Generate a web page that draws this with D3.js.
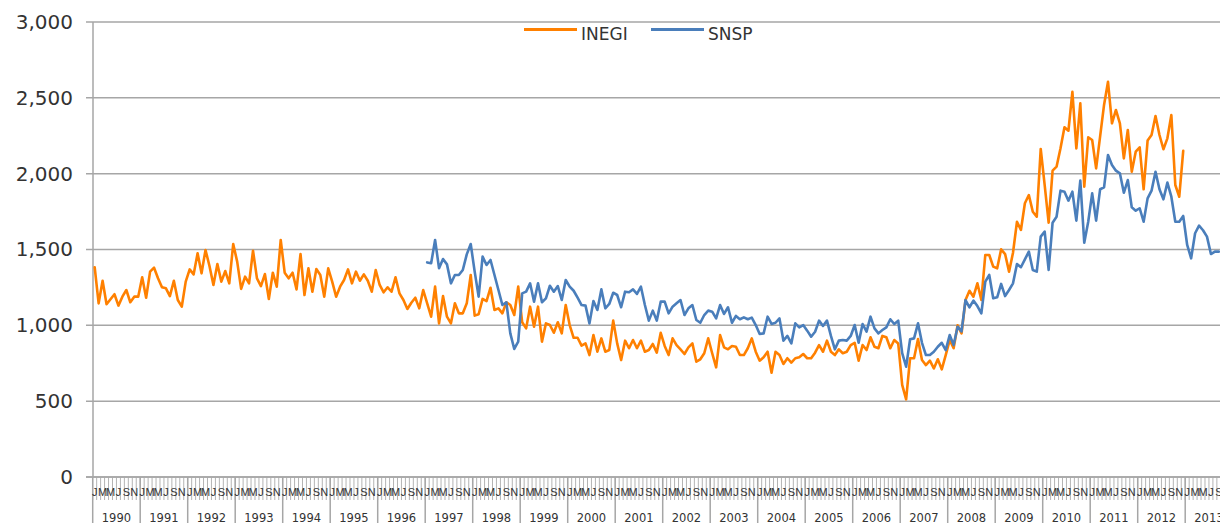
<!DOCTYPE html>
<html><head><meta charset="utf-8">
<script src="https://cdn.jsdelivr.net/npm/d3@7"></script>
<style>body{margin:0;background:#fff;overflow:hidden} svg{display:block}</style>
</head><body><svg id="c" width="1240" height="523"></svg>
<script>
// Monthly values, first month = Jan 1990 (index 0)
const inegiStart = 0;
const inegi = [
1383,1145,1294,1139,1172,1205,1130,1189,1233,1152,1189,1189,
1317,1182,1354,1380,1310,1251,1244,1193,1294,1167,1123,1288,
1369,1336,1475,1343,1497,1391,1266,1404,1288,1358,1277,1536,
1420,1240,1321,1277,1492,1310,1259,1338,1174,1347,1255,1563,
1347,1310,1347,1237,1470,1200,1376,1222,1371,1332,1189,1376,
1288,1189,1255,1299,1369,1277,1354,1294,1336,1294,1222,1365,
1266,1218,1251,1222,1317,1211,1167,1108,1149,1182,1112,1233,
1145,1057,1255,1013,1193,1057,1013,1145,1079,1079,1145,1332,
1064,1073,1174,1160,1248,1101,1112,1079,1152,1134,1068,1255,
1020,980,1123,991,1123,892,1013,1002,951,1020,947,1134,
1002,918,918,866,881,804,936,826,914,826,837,1031,
881,771,899,849,903,849,899,826,837,877,820,951,
864,804,914,870,842,811,855,881,760,776,816,914,
816,723,936,855,842,864,859,804,804,849,914,826,
767,789,826,688,826,804,745,783,754,783,789,811,
783,783,820,870,826,899,826,804,842,816,826,870,
885,767,870,837,921,859,849,930,921,849,903,881,
607,512,783,783,910,771,738,767,716,776,710,804,
903,849,1000,947,1167,1228,1189,1277,1167,1464,1464,1387,
1376,1501,1470,1354,1479,1683,1629,1805,1859,1749,1716,2163,
1925,1677,2020,2046,2167,2306,2283,2540,2167,2464,1914,2240,
2222,2035,2244,2453,2606,2332,2420,2332,2101,2288,2013,2145,
2174,1897,2218,2255,2380,2255,2161,2233,2387,1925,1848,2151
];
// SNSP starts Jan 1997 (index 84)
const snspStart = 84;
const snsp = [
1415,1409,1563,1376,1437,1402,1277,1332,1332,1365,1468,1536,
1354,1189,1453,1398,1431,1332,1233,1134,1152,947,844,892,
1211,1222,1277,1156,1277,1152,1178,1261,1222,1259,1167,1299,
1255,1228,1182,1134,1130,1013,1160,1101,1237,1112,1141,1215,
1200,1119,1222,1218,1237,1207,1255,1134,1031,1097,1031,1156,
1156,1079,1123,1145,1167,1068,1112,1134,1035,1017,1068,1097,
1090,1046,1134,1075,1119,1017,1062,1040,1053,1040,1051,1002,
943,947,1057,1009,1017,1046,899,930,881,1013,987,1002,
965,925,958,1031,996,1031,930,842,899,903,899,930,
1002,885,1009,958,1057,980,947,969,987,1040,1009,1031,
816,727,908,914,1013,885,804,804,826,859,885,837,
936,870,991,960,1167,1119,1163,1127,1079,1288,1332,1178,
1185,1273,1193,1233,1277,1404,1383,1435,1486,1365,1354,1585,
1618,1365,1677,1716,1888,1881,1822,1881,1690,1954,1545,1683,
1870,1690,1897,1910,2123,2057,2020,2002,1874,1958,1778,1756,
1772,1683,1837,1888,2013,1897,1831,1941,1848,1683,1683,1721,
1530,1442,1607,1657,1627,1585,1470,1486,1486
];
const seriesNames = ["INEGI", "SNSP"];
const seriesColors = ["#ff8000", "#4a7ebb"];
const yTicks = [0, 500, 1000, 1500, 2000, 2500, 3000];
const monthLabels = ["J", "M", "M", "J", "S", "N"];
const monthLabelOffsets = [0, 2, 4, 6, 8, 10];
const years = d3.range(1990, 2014);

const series = [
  {name: seriesNames[0], color: seriesColors[0], pts: inegi.map((v, i) => ({m: inegiStart + i, v}))},
  {name: seriesNames[1], color: seriesColors[1], pts: snsp.map((v, i) => ({m: snspStart + i, v}))}
];

const svg = d3.select("#c");
const W = 1240;
const x = d3.scaleLinear().domain([0, years.length * 12]).range([92.7, 1232.7]);
const y = d3.scaleLinear().domain([0, 3000]).range([477, 22]);
const grid = "#a6a6a6";

// gridlines
svg.append("g").selectAll("line").data(yTicks).join("line")
  .attr("x1", 86).attr("x2", W)
  .attr("y1", d => y(d)).attr("y2", d => y(d))
  .attr("stroke", grid).attr("stroke-width", 1.5);

// y axis labels
const yAxis = d3.axisLeft(y).tickValues(yTicks).tickSize(0).tickPadding(20)
  .tickFormat(d3.format(","));
const gy = svg.append("g").attr("transform", "translate(93,0)").call(yAxis);
gy.select(".domain").remove();
gy.selectAll("text").attr("font-family", "DejaVu Sans").attr("font-size", 20).attr("fill", "#333");

// y axis line
svg.append("line").attr("x1", 93).attr("x2", 93).attr("y1", y(3000)).attr("y2", y(0))
  .attr("stroke", grid).attr("stroke-width", 1.5);

// month ticks
const months = d3.range(0, years.length * 12 + 1);
svg.append("g").selectAll("line").data(months).join("line")
  .attr("x1", d => x(d)).attr("x2", d => x(d))
  .attr("y1", 477).attr("y2", 500)
  .attr("stroke", "#b4b4b4").attr("stroke-width", 1);

// year separators
svg.append("g").selectAll("line").data(d3.range(0, years.length + 1)).join("line")
  .attr("x1", d => x(d * 12)).attr("x2", d => x(d * 12))
  .attr("y1", 477).attr("y2", 523)
  .attr("stroke", grid).attr("stroke-width", 1.5);

// month letters
const ml = [];
years.forEach((yr, k) => monthLabels.forEach((l, j) => ml.push({m: k * 12 + monthLabelOffsets[j], l})));
svg.append("g").selectAll("text").data(ml).join("text")
  .attr("x", d => x(d.m + 0.5)).attr("y", 495.5)
  .attr("text-anchor", "middle")
  .attr("font-family", "Liberation Sans").attr("font-size", 11).attr("fill", "#333")
  .text(d => d.l);

// year labels
svg.append("g").selectAll("text").data(years).join("text")
  .attr("x", (d, k) => x(k * 12 + 6)).attr("y", 521.5)
  .attr("text-anchor", "middle")
  .attr("font-family", "DejaVu Sans").attr("font-size", 11.5).attr("fill", "#333")
  .text(d => d);

// lines
const line = d3.line().x(d => x(d.m + 0.5)).y(d => y(d.v));
svg.append("g").selectAll("path").data(series).join("path")
  .attr("d", d => line(d.pts))
  .attr("fill", "none").attr("stroke", d => d.color)
  .attr("stroke-width", 2.6).attr("stroke-linejoin", "round").attr("stroke-linecap", "round");

// axis baseline on top
svg.append("line").attr("x1", 86).attr("x2", W).attr("y1", y(0)).attr("y2", y(0))
  .attr("stroke", grid).attr("stroke-width", 1.5);

// legend
const legX = [524, 651];
const lg = svg.append("g").selectAll("g").data(series).join("g")
  .attr("transform", (d, i) => `translate(${legX[i]},29.5)`);
lg.append("line").attr("x1", 0).attr("x2", 53).attr("y1", 0).attr("y2", 0)
  .attr("stroke", d => d.color).attr("stroke-width", 3);
lg.append("text").attr("x", 57).attr("y", 10.5)
  .attr("font-family", "DejaVu Sans").attr("font-size", 17).attr("fill", "#333")
  .text(d => d.name);
</script></body></html>
